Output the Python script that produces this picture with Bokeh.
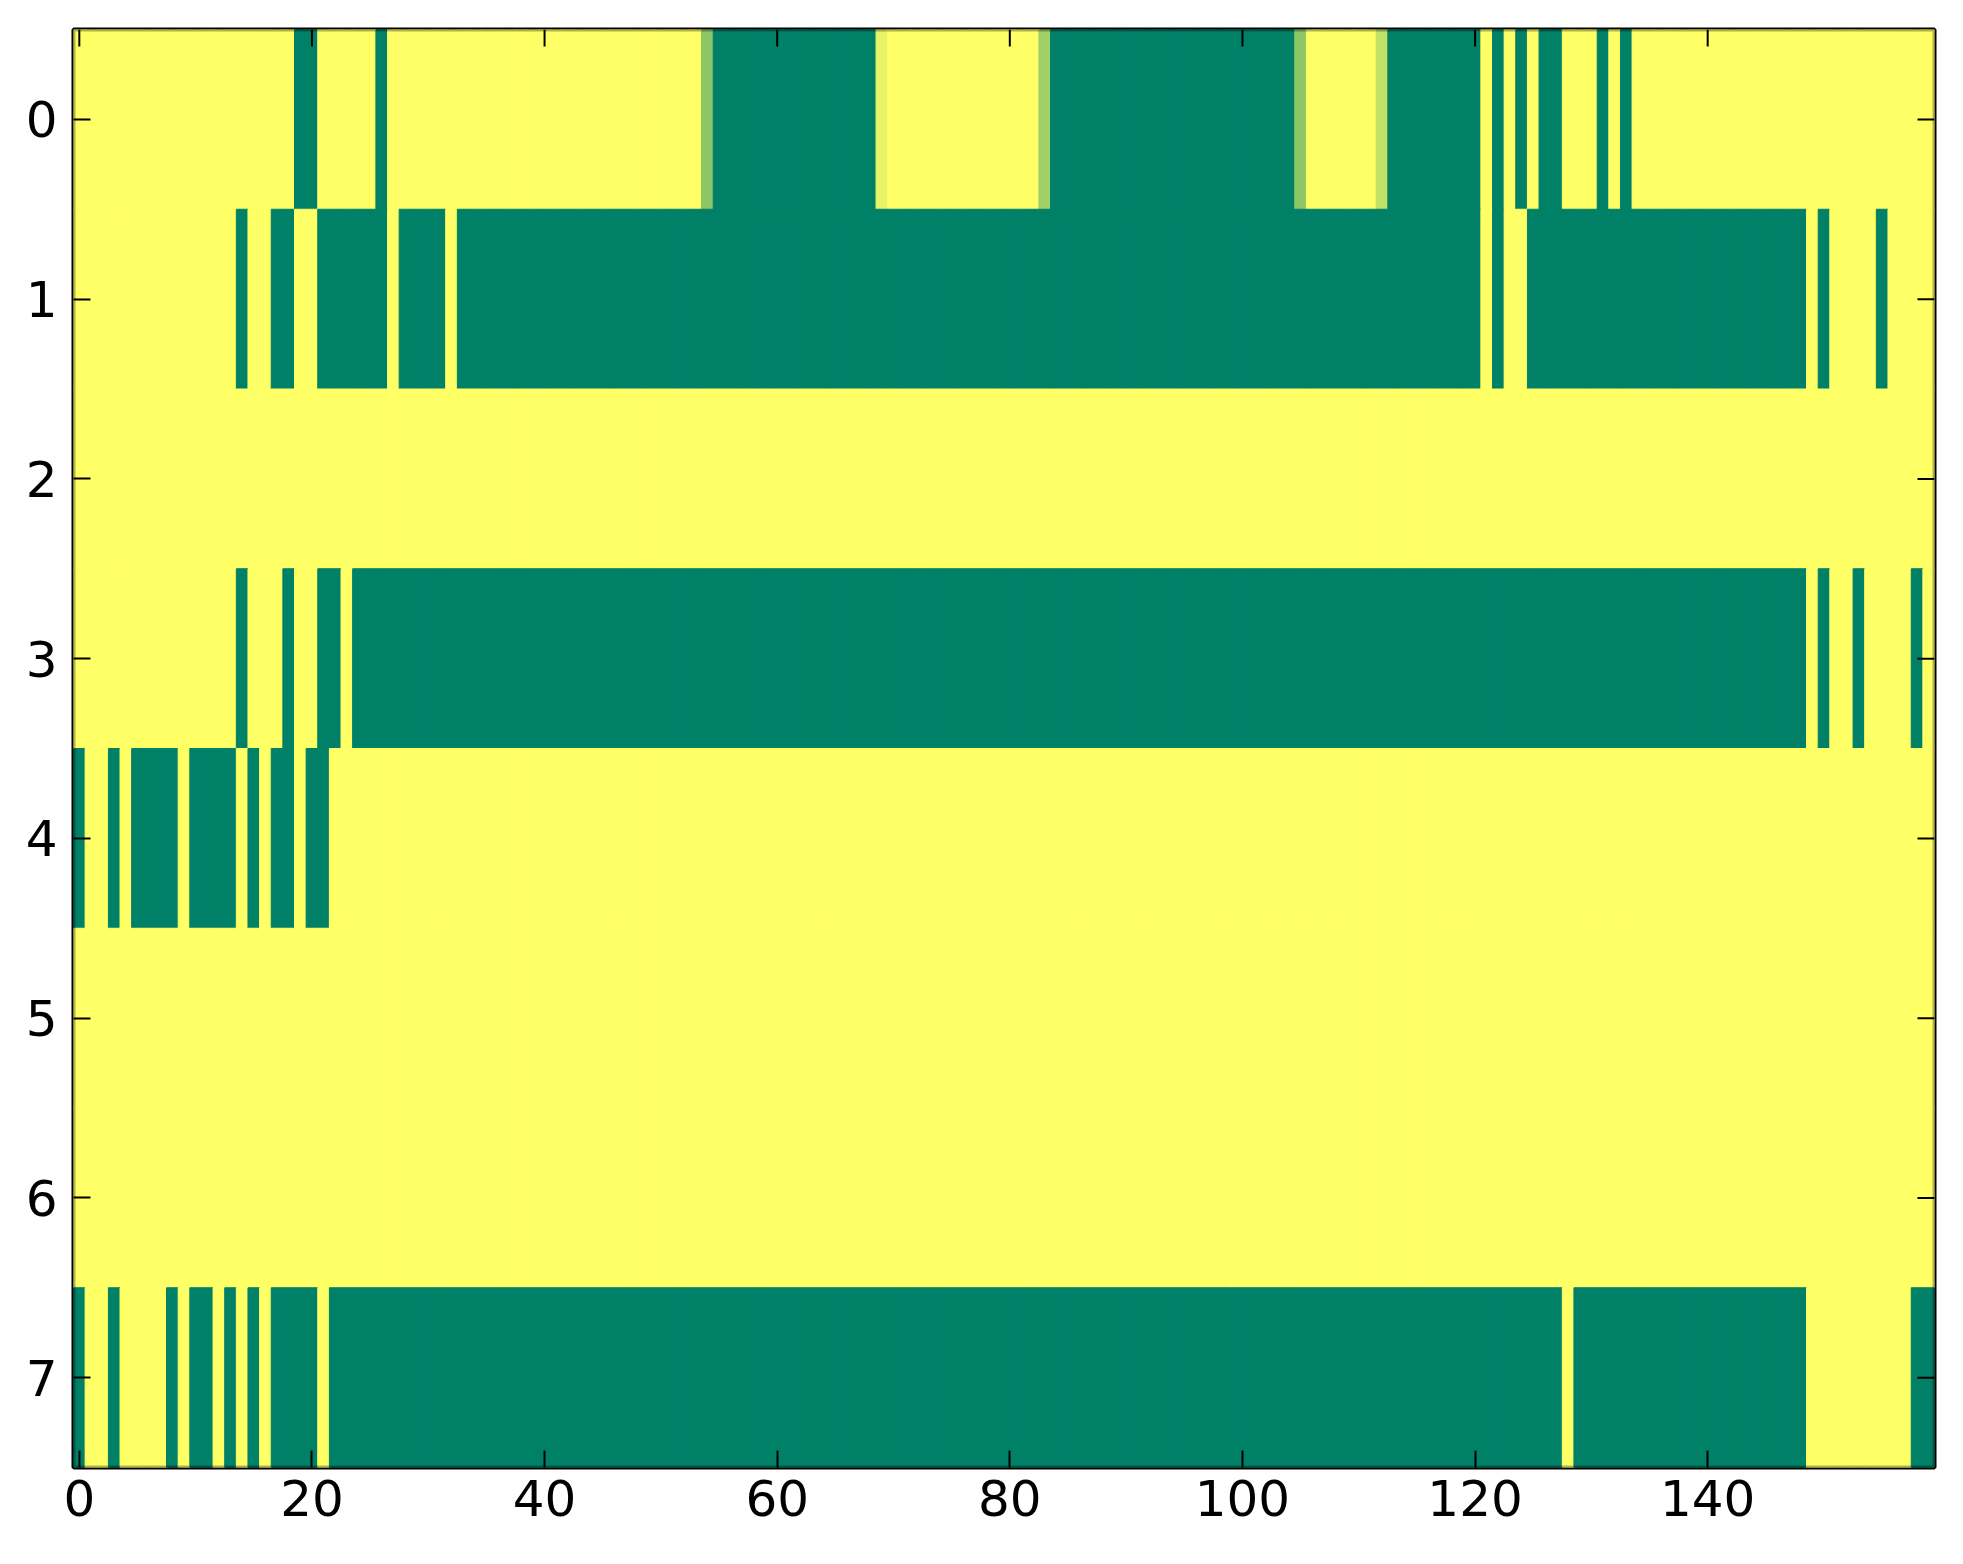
from bokeh.plotting import figure
from bokeh.models import Range1d, FixedTicker, ColumnDataSource, BoxAnnotation
from bokeh.transform import linear_cmap
from bokeh.embed import file_html
from bokeh.resources import INLINE

# 8 rows x 160 columns, values in [0, 1] (0 = green, 1 = yellow)
row0 = [1, 1, 1, 1, 1, 1, 1, 1, 1, 1, 1, 1, 1, 1, 1, 1, 1, 1, 1, 0,
        0, 1, 1, 1, 1, 1, 0, 1, 1, 1, 1, 1, 1, 1, 1, 1, 1, 1, 1, 1,
        1, 1, 1, 1, 1, 1, 1, 1, 1, 1, 1, 1, 1, 1, 0.55, 0, 0, 0, 0, 0,
        0, 0, 0, 0, 0, 0, 0, 0, 0, 0.91, 1, 1, 1, 1, 1, 1, 1, 1, 1, 1,
        1, 1, 1, 0.63, 0, 0, 0, 0, 0, 0, 0, 0, 0, 0, 0, 0, 0, 0, 0, 0,
        0, 0, 0, 0, 0, 0.55, 1, 1, 1, 1, 1, 1, 0.75, 0, 0, 0, 0, 0, 0, 0,
        0, 1, 0, 1, 0, 1, 0, 0, 1, 1, 1, 0, 1, 0, 1, 1, 1, 1, 1, 1,
        1, 1, 1, 1, 1, 1, 1, 1, 1, 1, 1, 1, 1, 1, 1, 1, 1, 1, 1, 1]
row1 = [1, 1, 1, 1, 1, 1, 1, 1, 1, 1, 1, 1, 1, 1, 0, 1, 1, 0, 0, 1,
        1, 0, 0, 0, 0, 0, 0, 1, 0, 0, 0, 0, 1, 0, 0, 0, 0, 0, 0, 0,
        0, 0, 0, 0, 0, 0, 0, 0, 0, 0, 0, 0, 0, 0, 0, 0, 0, 0, 0, 0,
        0, 0, 0, 0, 0, 0, 0, 0, 0, 0, 0, 0, 0, 0, 0, 0, 0, 0, 0, 0,
        0, 0, 0, 0, 0, 0, 0, 0, 0, 0, 0, 0, 0, 0, 0, 0, 0, 0, 0, 0,
        0, 0, 0, 0, 0, 0, 0, 0, 0, 0, 0, 0, 0, 0, 0, 0, 0, 0, 0, 0,
        0, 1, 0, 1, 1, 0, 0, 0, 0, 0, 0, 0, 0, 0, 0, 0, 0, 0, 0, 0,
        0, 0, 0, 0, 0, 0, 0, 0, 0, 1, 0, 1, 1, 1, 1, 0, 1, 1, 1, 1]
row2 = [1, 1, 1, 1, 1, 1, 1, 1, 1, 1, 1, 1, 1, 1, 1, 1, 1, 1, 1, 1,
        1, 1, 1, 1, 1, 1, 1, 1, 1, 1, 1, 1, 1, 1, 1, 1, 1, 1, 1, 1,
        1, 1, 1, 1, 1, 1, 1, 1, 1, 1, 1, 1, 1, 1, 1, 1, 1, 1, 1, 1,
        1, 1, 1, 1, 1, 1, 1, 1, 1, 1, 1, 1, 1, 1, 1, 1, 1, 1, 1, 1,
        1, 1, 1, 1, 1, 1, 1, 1, 1, 1, 1, 1, 1, 1, 1, 1, 1, 1, 1, 1,
        1, 1, 1, 1, 1, 1, 1, 1, 1, 1, 1, 1, 1, 1, 1, 1, 1, 1, 1, 1,
        1, 1, 1, 1, 1, 1, 1, 1, 1, 1, 1, 1, 1, 1, 1, 1, 1, 1, 1, 1,
        1, 1, 1, 1, 1, 1, 1, 1, 1, 1, 1, 1, 1, 1, 1, 1, 1, 1, 1, 1]
row3 = [1, 1, 1, 1, 1, 1, 1, 1, 1, 1, 1, 1, 1, 1, 0, 1, 1, 1, 0, 1,
        1, 0, 0, 1, 0, 0, 0, 0, 0, 0, 0, 0, 0, 0, 0, 0, 0, 0, 0, 0,
        0, 0, 0, 0, 0, 0, 0, 0, 0, 0, 0, 0, 0, 0, 0, 0, 0, 0, 0, 0,
        0, 0, 0, 0, 0, 0, 0, 0, 0, 0, 0, 0, 0, 0, 0, 0, 0, 0, 0, 0,
        0, 0, 0, 0, 0, 0, 0, 0, 0, 0, 0, 0, 0, 0, 0, 0, 0, 0, 0, 0,
        0, 0, 0, 0, 0, 0, 0, 0, 0, 0, 0, 0, 0, 0, 0, 0, 0, 0, 0, 0,
        0, 0, 0, 0, 0, 0, 0, 0, 0, 0, 0, 0, 0, 0, 0, 0, 0, 0, 0, 0,
        0, 0, 0, 0, 0, 0, 0, 0, 0, 1, 0, 1, 1, 0, 1, 1, 1, 1, 0, 1]
row4 = [0, 1, 1, 0, 1, 0, 0, 0, 0, 1, 0, 0, 0, 0, 1, 0, 1, 0, 0, 1,
        0, 0, 1, 1, 1, 1, 1, 1, 1, 1, 1, 1, 1, 1, 1, 1, 1, 1, 1, 1,
        1, 1, 1, 1, 1, 1, 1, 1, 1, 1, 1, 1, 1, 1, 1, 1, 1, 1, 1, 1,
        1, 1, 1, 1, 1, 1, 1, 1, 1, 1, 1, 1, 1, 1, 1, 1, 1, 1, 1, 1,
        1, 1, 1, 1, 1, 1, 1, 1, 1, 1, 1, 1, 1, 1, 1, 1, 1, 1, 1, 1,
        1, 1, 1, 1, 1, 1, 1, 1, 1, 1, 1, 1, 1, 1, 1, 1, 1, 1, 1, 1,
        1, 1, 1, 1, 1, 1, 1, 1, 1, 1, 1, 1, 1, 1, 1, 1, 1, 1, 1, 1,
        1, 1, 1, 1, 1, 1, 1, 1, 1, 1, 1, 1, 1, 1, 1, 1, 1, 1, 1, 1]
row5 = list(row2)
row6 = list(row2)
row7 = [0, 1, 1, 0, 1, 1, 1, 1, 0, 1, 0, 0, 1, 0, 1, 0, 1, 0, 0, 0,
        0, 1, 0, 0, 0, 0, 0, 0, 0, 0, 0, 0, 0, 0, 0, 0, 0, 0, 0, 0,
        0, 0, 0, 0, 0, 0, 0, 0, 0, 0, 0, 0, 0, 0, 0, 0, 0, 0, 0, 0,
        0, 0, 0, 0, 0, 0, 0, 0, 0, 0, 0, 0, 0, 0, 0, 0, 0, 0, 0, 0,
        0, 0, 0, 0, 0, 0, 0, 0, 0, 0, 0, 0, 0, 0, 0, 0, 0, 0, 0, 0,
        0, 0, 0, 0, 0, 0, 0, 0, 0, 0, 0, 0, 0, 0, 0, 0, 0, 0, 0, 0,
        0, 0, 0, 0, 0, 0, 0, 0, 1, 0, 0, 0, 0, 0, 0, 0, 0, 0, 0, 0,
        0, 0, 0, 0, 0, 0, 0, 0, 0, 1, 1, 1, 1, 1, 1, 1, 1, 1, 0, 0]
rows = [row0, row1, row2, row3, row4, row5, row6, row7]

x_ticks = [0, 20, 40, 60, 80, 100, 120, 140]
y_ticks = [0, 1, 2, 3, 4, 5, 6, 7]

# matplotlib "summer" colormap, 256 steps
summer = ["#%02x%02x%02x" % (i, int(round(127.5 + i / 2)), 102) for i in range(256)]

ncols = len(rows[0])
nrows = len(rows)
FW, FH = 1861, 1438
TICK = 17  # tick length in px

xs, ys, vs = [], [], []
for r, row in enumerate(rows):
    for c, v in enumerate(row):
        xs.append(c)
        ys.append(r)
        vs.append(v)
src = ColumnDataSource(data=dict(x=xs, y=ys, v=vs))

x0, x1 = -0.5, ncols - 0.5
y0, y1 = nrows - 0.5, -0.5

p = figure(frame_width=FW, frame_height=FH,
           x_range=Range1d(x0, x1), y_range=Range1d(y0, y1),
           output_backend="svg", toolbar_location=None,
           min_border_left=73, min_border_top=29, min_border_right=20,
           min_border_bottom=80)
p.grid.visible = False
p.background_fill_color = "white"

cmap = linear_cmap("v", summer, 0, 1)
p.rect(x="x", y="y", width=1, height=1, source=src,
       fill_color=cmap, line_color=cmap, line_width=1)

# inward ticks on the top and right edges (no labels there)
dy = TICK * nrows / FH
dx = TICK * ncols / FW
p.segment(x0=x_ticks, y0=[y1] * len(x_ticks), x1=x_ticks, y1=[y1 + dy] * len(x_ticks),
          line_color="black", line_width=2)
p.segment(x0=[x1] * len(y_ticks), y0=y_ticks, x1=[x1 - dx] * len(y_ticks), y1=y_ticks,
          line_color="black", line_width=2)

p.xaxis.ticker = FixedTicker(ticks=x_ticks)
p.yaxis.ticker = FixedTicker(ticks=y_ticks)

for ax in p.xaxis + p.yaxis:
    ax.axis_line_color = None
    ax.major_tick_in = TICK
    ax.major_tick_out = 0
    ax.major_tick_line_width = 2
    ax.major_tick_line_color = "black"
    ax.minor_tick_line_color = None
    ax.major_label_text_font = "DejaVu Sans"
    ax.major_label_text_font_size = "50px"
    ax.major_label_text_color = "black"

p.xaxis.major_label_standoff = 12
p.yaxis.major_label_standoff = 16

# spines drawn on top of the cells
p.outline_line_color = "black"
p.outline_line_width = 4
p.add_layout(BoxAnnotation(left=x0, right=x1, top=y1, bottom=y0,
                           fill_alpha=0, line_color="black", line_width=4))

open("out.html", "w").write(file_html(p, INLINE))
